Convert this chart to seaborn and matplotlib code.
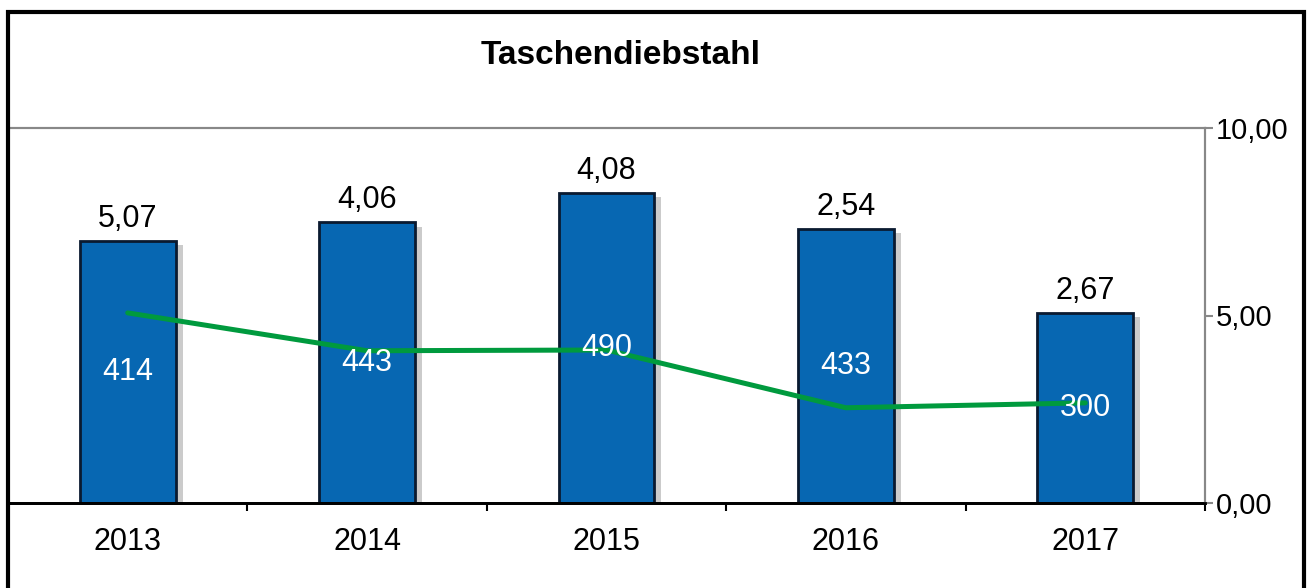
import numpy as np
import pandas as pd
import matplotlib.pyplot as plt
import matplotlib.patheffects as pe
from matplotlib.patches import Rectangle
import seaborn as sns

# Daten
jahre = ["2013", "2014", "2015", "2016", "2017"]
faelle = [414, 443, 490, 433, 300]
quote = [5.07, 4.06, 4.08, 2.54, 2.67]
quote_labels = ["5,07", "4,06", "4,08", "2,54", "2,67"]
rechts_ticks = [0, 5, 10]
rechts_labels = ["0,00", "5,00", "10,00"]

df = pd.DataFrame({"Jahr": jahre, "Faelle": faelle, "Quote": quote})

sns.set_theme(style="white")
plt.rcParams['font.family'] = ['Liberation Sans', 'DejaVu Sans']
plt.rcParams['text.color'] = 'black'
plt.rcParams['xtick.color'] = 'black'
plt.rcParams['ytick.color'] = 'black'

blau = "#0767B2"
gruen = "#009A3E"
W, H = 1314, 588

fig = plt.figure(figsize=(W / 100, H / 100), dpi=100)
ax = fig.add_axes([8 / W, (H - 503) / H, (1205 - 8) / W, (503 - 128) / H])

# Balken
sns.barplot(data=df, x="Jahr", y="Faelle", color=blau, width=0.40,
            edgecolor="#0A1A30", linewidth=2, saturation=1, ax=ax)
for p in ax.patches:
    p.set_path_effects([pe.SimplePatchShadow(offset=(5, -3), shadow_rgbFace="0.55", alpha=0.45),
                        pe.Normal()])
ax.set_ylim(0, 592)
ax.set_yticks([])
ax.set_xlabel("")
ax.set_ylabel("")

# Linie auf rechter Achse
ax2 = ax.twinx()
sns.pointplot(data=df, x="Jahr", y="Quote", color=gruen, markers="",
              errorbar=None, ax=ax2, linewidth=3.6)
ax2.set_ylim(0, 10)
ax2.set_yticks(rechts_ticks)
ax2.set_yticklabels(rechts_labels)
ax2.set_ylabel("")
ax2.set_xlabel("")
ax2.set_xlim(-0.5, len(jahre) - 0.5)
ax2.tick_params(axis="y", right=True, length=6, width=1.5, color="#888888",
                labelsize=21, pad=2, labelcolor="black")
for a in (ax, ax2):
    a.spines["left"].set_visible(False)
    a.spines["top"].set_color("#888888")
    a.spines["top"].set_linewidth(1.5)
    a.spines["right"].set_color("#888888")
    a.spines["right"].set_linewidth(1.5)
    a.spines["bottom"].set_color("black")
    a.spines["bottom"].set_linewidth(2)

# x-Achse: Beschriftung mittig, Striche zwischen den Kategorien
ax.set_xticks(range(len(jahre)))
ax.set_xticklabels(jahre)
ax.set_xticks(np.arange(0.5, len(jahre), 1), minor=True)
ax.tick_params(axis="x", which="major", length=0, labelsize=22, pad=17, labelcolor="black")
ax.tick_params(axis="x", which="minor", bottom=True, length=6, width=1.5, color="black")
ax2.tick_params(axis="x", which="both", bottom=False, labelbottom=False)

# Beschriftungen
for i, p in enumerate(ax.patches):
    xc = p.get_x() + p.get_width() / 2
    h = p.get_height()
    ax2.annotate(quote_labels[i], (xc, h), xycoords=ax.transData,
                 xytext=(0, 5), textcoords="offset points",
                 ha="center", va="bottom", fontsize=22, color="black", zorder=5)
    ax2.text(xc, h / 2, str(faelle[i]), transform=ax.transData,
             ha="center", va="center", fontsize=22, color="white", zorder=5)

fig.text(621 / W, 1 - 55 / H, "Taschendiebstahl", ha="center", va="center",
         fontsize=24, fontweight="bold", color="black")

# Rahmen um das Diagramm
fig.patches.append(Rectangle((8 / W, -0.05), (1304 - 8) / W, 1.05 - 12 / H,
                             transform=fig.transFigure, fill=False,
                             edgecolor="black", linewidth=3))

fig.savefig("out.png", dpi=100)
